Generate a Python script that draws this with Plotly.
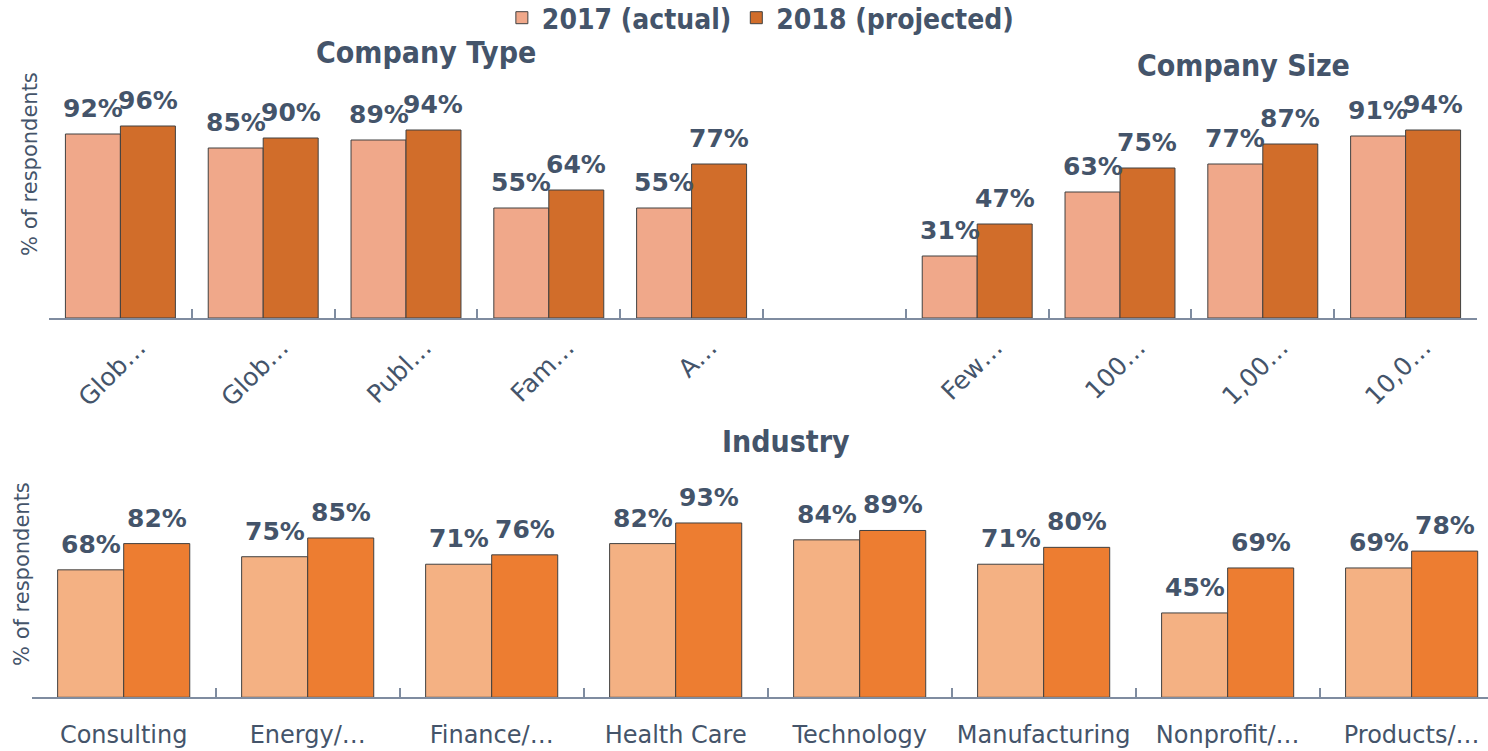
import plotly.graph_objects as go

# top panel: company type | gap | company size
type_labels = ["Glob…", "Glob…", "Publ…", "Fam…", "A…"]
size_labels = ["Few…", "100…", "1,00…", "10,0…"]
type_2017 = [92, 85, 89, 55, 55]
type_2018 = [96, 90, 94, 64, 77]
size_2017 = [31, 63, 77, 91]
size_2018 = [47, 75, 87, 94]

# bottom panel: industry
industry_labels = ["Consulting", "Energy/…", "Finance/…", "Health Care", "Technology",
                   "Manufacturing", "Nonprofit/…", "Products/…"]
industry_2017 = [68, 75, 71, 82, 84, 71, 45, 69]
industry_2018 = [82, 85, 76, 93, 89, 80, 69, 78]

TXT = "#44546A"
AXIS = "#7F8CA0"
EDGE = "#404040"
W, H = 1488, 751
BODY = "DejaVu Sans"
HEAD = "DejaVu Sans Condensed, DejaVu Sans"

top_labels = type_labels + [""] + size_labels
top_keys = [f"t{i}" for i in range(len(top_labels))]
top_2017 = type_2017 + [None] + size_2017
top_2018 = type_2018 + [None] + size_2018
ind_keys = [f"i{i}" for i in range(len(industry_labels))]

label_font = dict(family=BODY, size=25, color=TXT, weight="bold")

fig = go.Figure()

# top panel bars
bw = 0.385
fig.add_trace(go.Bar(x=top_keys, y=top_2017, name="2017 (actual)", width=bw, offset=-bw,
                     marker=dict(color="#F0A88A", line=dict(color=EDGE, width=1)),
                     xaxis="x", yaxis="y"))
fig.add_trace(go.Bar(x=top_keys, y=top_2018, name="2018 (projected)", width=bw, offset=0,
                     marker=dict(color="#D16D2A", line=dict(color=EDGE, width=1)),
                     xaxis="x", yaxis="y"))

# bottom panel bars
bw2 = 0.359
fig.add_trace(go.Bar(x=ind_keys, y=industry_2017, name="2017 (actual)", width=bw2, offset=-bw2,
                     marker=dict(color="#F4B183", line=dict(color=EDGE, width=1)),
                     showlegend=False, xaxis="x2", yaxis="y2"))
fig.add_trace(go.Bar(x=ind_keys, y=industry_2018, name="2018 (projected)", width=bw2, offset=0,
                     marker=dict(color="#ED7D31", line=dict(color=EDGE, width=1)),
                     showlegend=False, xaxis="x2", yaxis="y2"))

# value labels above each bar
for vals, shift, w, xr, yr in [(top_2017, -1, bw, "x", "y"), (top_2018, 1, bw, "x", "y"),
                                (industry_2017, -1, bw2, "x2", "y2"),
                                (industry_2018, 1, bw2, "x2", "y2")]:
    for i, v in enumerate(vals):
        if v is None:
            continue
        fig.add_annotation(x=i + shift * w / 2, y=v, xref=xr, yref=yr, text=f"{v}%",
                           showarrow=False, yanchor="bottom", yshift=9, font=label_font)

xcommon = dict(type="category", tickson="boundaries", ticks="inside", ticklen=9, tickwidth=1.5,
               tickcolor=AXIS, showline=True, linecolor=AXIS, linewidth=2,
               showgrid=False)
ycommon = dict(showticklabels=False, showgrid=False, zeroline=False, showline=False, ticks="")

fig.update_layout(
    width=W, height=H,
    margin=dict(l=0, r=0, t=0, b=0, autoexpand=False),
    plot_bgcolor="white", paper_bgcolor="white",
    barmode="group",
    xaxis=dict(xcommon, domain=[49 / W, 1477 / W], anchor="y", range=[-0.5, 9.5],
               tickvals=top_keys, ticktext=top_labels, tickangle=-45,
               ticklabelstandoff=3, ticklabelshift=18,
               tickfont=dict(family=BODY, size=25, color=TXT)),
    yaxis=dict(ycommon, domain=[1 - 318 / H, 1 - 9 / H], range=[0, 154.5]),
    xaxis2=dict(xcommon, domain=[31.7 / W, 1], anchor="y2", range=[-0.5, 7.415],
                tickvals=ind_keys, ticktext=industry_labels, tickangle=0, ticklabelstandoff=15,
                tickfont=dict(family=BODY, size=24, color=TXT)),
    yaxis2=dict(ycommon, domain=[1 - 697.3 / H, 1 - 451 / H], range=[0, 131.4]),
    legend=dict(orientation="h", x=0.511, xanchor="center", y=1 - 18 / H, yanchor="middle",
                font=dict(family=HEAD, size=28, color=TXT, weight="bold"),
                bgcolor="rgba(0,0,0,0)"),
)

head_font = dict(family=HEAD, size=30, color=TXT, weight="bold")
ytitle_font = dict(family=BODY, size=21, color=TXT)
for txt, x, y in [("Company Type", 426, 52), ("Company Size", 1243, 66), ("Industry", 786, 441)]:
    fig.add_annotation(text=txt, x=x / W, y=1 - y / H, xref="paper", yref="paper",
                       showarrow=False, font=head_font, xanchor="center", yanchor="middle")
for x, y in [(30, 164), (22, 574)]:
    fig.add_annotation(text="% of respondents", x=x / W, y=1 - y / H, xref="paper", yref="paper",
                       showarrow=False, font=ytitle_font, textangle=-90,
                       xanchor="center", yanchor="middle")

fig.write_html("out.html", config={"displayModeBar": False},
               post_script="document.body.style.margin='0';")
